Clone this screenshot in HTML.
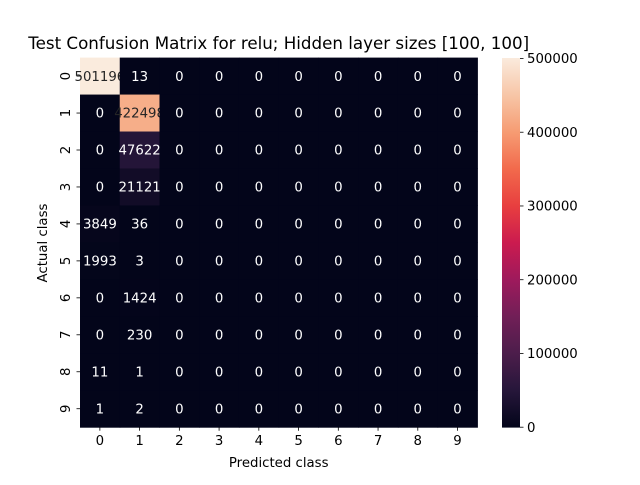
<!DOCTYPE html>
<html><head><meta charset="utf-8"><style>
body{margin:0;background:#fff;}
svg text{font-family:"DejaVu Sans","Liberation Sans",sans-serif;}
</style></head><body>
<svg id="chart" width="640" height="480" xmlns="http://www.w3.org/2000/svg">
<defs>
<linearGradient id="cbar" x1="0" y1="1" x2="0" y2="0">
<stop offset="0" stop-color="#03051a"/><stop offset="0.1" stop-color="#26163a"/>
<stop offset="0.2" stop-color="#4c1d4b"/><stop offset="0.3" stop-color="#711f57"/>
<stop offset="0.4" stop-color="#9e1a5c"/><stop offset="0.5" stop-color="#cb1b4f"/>
<stop offset="0.6" stop-color="#e83f3f"/><stop offset="0.7" stop-color="#f26a4c"/>
<stop offset="0.8" stop-color="#f69c73"/><stop offset="0.9" stop-color="#f7c6a7"/>
<stop offset="1" stop-color="#faebdd"/>
</linearGradient>
</defs>
<text x="278.7" y="49" font-size="16.7" text-anchor="middle" fill="#000">Test Confusion Matrix for relu; Hidden layer sizes [100, 100]</text>
<g id="cells"></g>
<g id="axes"></g>
<text x="278.7" y="467" font-size="13.3" text-anchor="middle">Predicted class</text>
<text x="47" y="243" font-size="13.3" text-anchor="middle" transform="rotate(-90 47 243)">Actual class</text>
<rect x="502" y="58" width="18" height="369.6" fill="url(#cbar)"/>
<g id="cbticks"></g>
</svg>
<script>
const classes=[0,1,2,3,4,5,6,7,8,9];
const col0=[501196,0,0,0,3849,1993,0,0,11,1];
const col1=[13,422498,47622,21121,36,3,1424,230,1,2];
const cbTicks=[0,100000,200000,300000,400000,500000];
const vmax=501196;
const X0=80,X1=477.4,Y0=57.6,Y1=427.2;
const cw=(X1-X0)/10,ch=(Y1-Y0)/10;
const xs=i=>X0+i*cw, ys=i=>Y0+i*ch;
const stops=[[3,5,26],[38,22,58],[76,29,75],[113,31,87],[158,26,92],[203,27,79],[232,63,63],[242,106,76],[246,156,115],[247,198,167],[250,235,221]];
function cmap(v){let t=Math.max(0,Math.min(1,v/vmax))*10;let i=Math.min(9,Math.floor(t));let f=t-i;const a=stops[i],b=stops[i+1];
return 'rgb('+a.map((c,k)=>Math.round(c+(b[k]-c)*f)).join(',')+')';}
const NS='http://www.w3.org/2000/svg';
function mk(tag,attrs,parent){const e=document.createElementNS(NS,tag);for(const k in attrs)e.setAttribute(k,attrs[k]);parent.appendChild(e);return e;}
const cells=document.getElementById('cells'),axes=document.getElementById('axes'),cbt=document.getElementById('cbticks');
for(let r=0;r<10;r++){for(let c=0;c<10;c++){
 const v=c===0?col0[r]:(c===1?col1[r]:0);
 const rc=mk('rect',{x:xs(c),y:ys(r),width:cw+0.5,height:ch+0.5,fill:cmap(v)},cells);
 
 
 const t=mk('text',{x:xs(c)+cw/2,y:ys(r)+ch/2+4.7,'font-size':13.3,'text-anchor':'middle',fill:v/vmax>0.5?'#262626':'#fff'},cells);
 t.textContent=v;
 
 
}}
classes.forEach((c,i)=>{
 const x=xs(i)+cw/2;
 mk('line',{x1:x,x2:x,y1:Y1,y2:Y1+3.5,stroke:'#000','stroke-width':0.8},axes);
 const t=mk('text',{x:x,y:Y1+18,'font-size':13.3,'text-anchor':'middle'},axes);t.textContent=c;
 
 
 const y=ys(i)+ch/2;
 mk('line',{x1:X0-3.5,x2:X0,y1:y,y2:y,stroke:'#000','stroke-width':0.8},axes);
 const u=mk('text',{x:70,y:y,'font-size':13.3,'text-anchor':'middle',transform:'rotate(-90 70 '+y+')'},axes);u.textContent=c;
 
 
});
cbTicks.forEach(v=>{
 const y=Y1-(v/vmax)*(Y1-Y0);
 mk('line',{x1:520,x2:523.5,y1:y,y2:y,stroke:'#000','stroke-width':0.8},cbt);
 const t=mk('text',{x:527,y:y+4.7,'font-size':13.3},cbt);t.textContent=v;
 
 
});
</script>
</body></html>
